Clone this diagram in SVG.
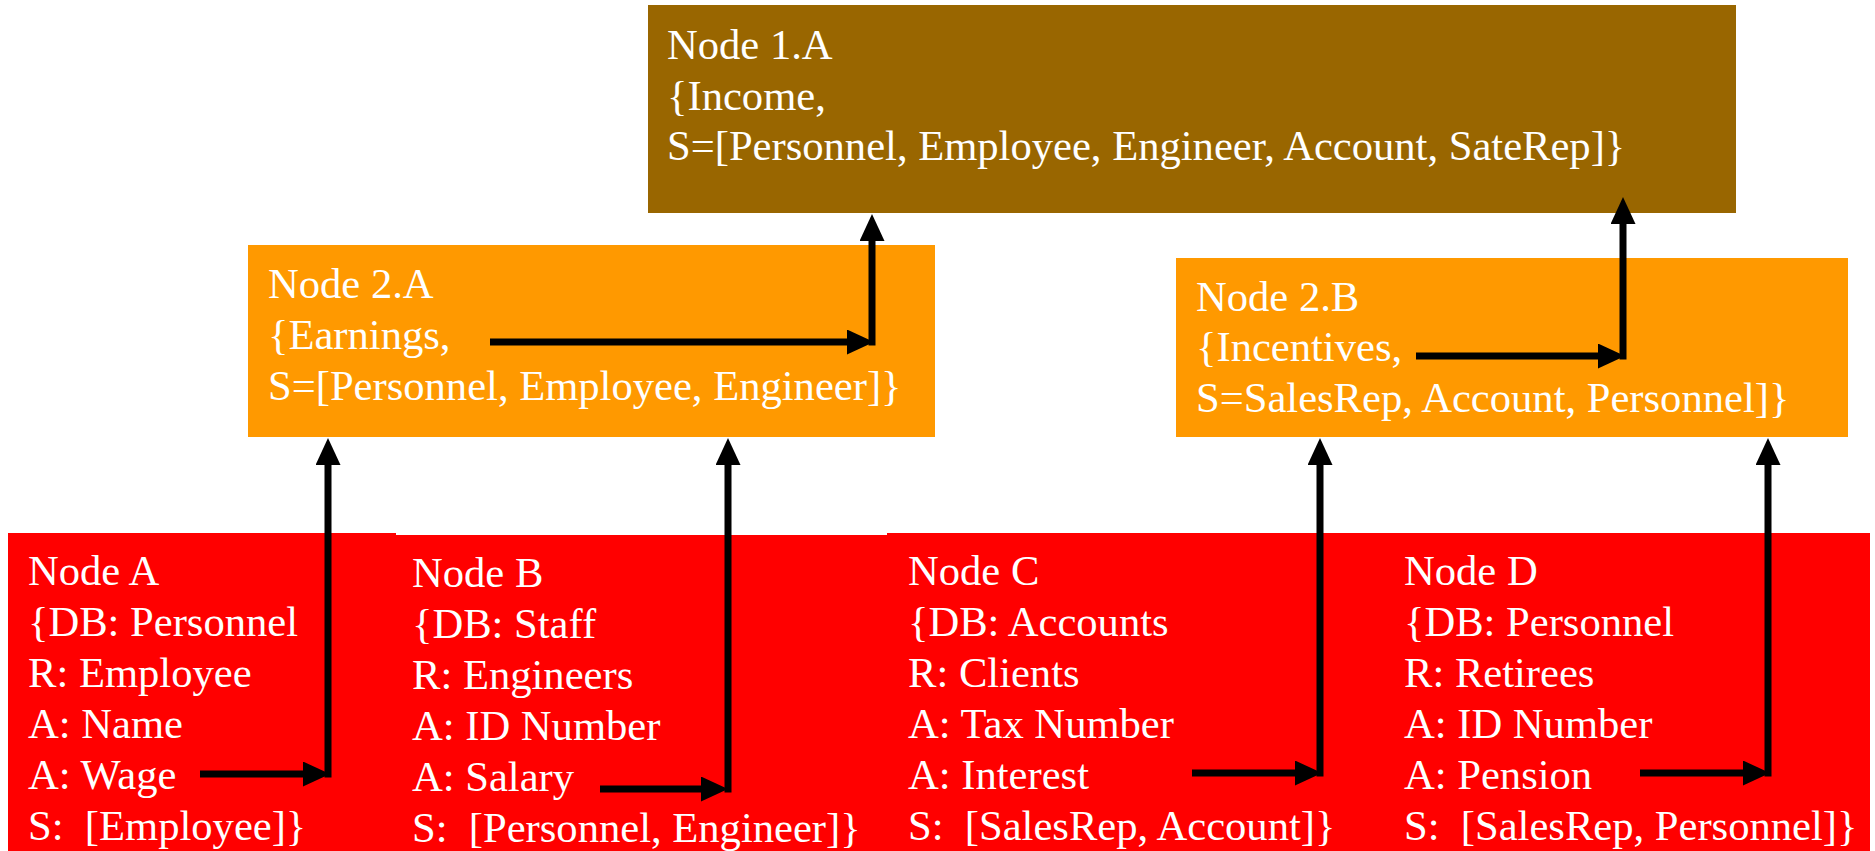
<svg xmlns="http://www.w3.org/2000/svg" width="1875" height="851" viewBox="0 0 1875 851">
  <style>
    .lbl { font-family: "Liberation Serif", "Times New Roman", serif; font-size: 42.6px; fill: #ffffff; white-space: pre; }
    .top { fill: #996600; }
    .mid { fill: #ff9900; }
    .src { fill: #ff0000; }
    .link { stroke: #000000; stroke-width: 7; fill: none; marker-end: url(#head); }
  </style>
  <defs>
    <marker id="head" markerUnits="userSpaceOnUse" markerWidth="27" markerHeight="25" refX="10" refY="12.5" orient="auto">
      <path d="M0,0 L27,12.5 L0,25 z" fill="#000000"/>
    </marker>
  </defs>
  <rect width="1875" height="851" fill="#ffffff"/>

  <!-- global node -->
  <g id="node-1a">
    <rect class="top" x="648" y="5" width="1088" height="208"/>
    <text class="lbl" x="667" y="59">Node 1.A</text>
    <text class="lbl" x="667" y="110">{Income,</text>
    <text class="lbl" x="667" y="160">S=[Personnel, Employee, Engineer, Account, SateRep]}</text>
  </g>

  <!-- intermediate nodes -->
  <g id="node-2a">
    <rect class="mid" x="248" y="245" width="687" height="192"/>
    <text class="lbl" x="268" y="298">Node 2.A</text>
    <text class="lbl" x="268" y="349">{Earnings,</text>
    <text class="lbl" x="268" y="400">S=[Personnel, Employee, Engineer]}</text>
  </g>
  <g id="node-2b">
    <rect class="mid" x="1176" y="258" width="672" height="179"/>
    <text class="lbl" x="1196" y="311">Node 2.B</text>
    <text class="lbl" x="1196" y="361">{Incentives,</text>
    <text class="lbl" x="1196" y="412">S=SalesRep, Account, Personnel]}</text>
  </g>

  <!-- source databases -->
  <g id="node-a">
    <rect class="src" x="8" y="533" width="388" height="318"/>
    <text class="lbl" x="28" y="585">Node A</text>
    <text class="lbl" x="28" y="636">{DB: Personnel</text>
    <text class="lbl" x="28" y="687">R: Employee</text>
    <text class="lbl" x="28" y="738">A: Name</text>
    <text class="lbl" x="28" y="789">A: Wage</text>
    <text class="lbl" x="28" y="840">S:  [Employee]}</text>
  </g>
  <g id="node-b">
    <rect class="src" x="396" y="535" width="491" height="316"/>
    <text class="lbl" x="412" y="587">Node B</text>
    <text class="lbl" x="412" y="638">{DB: Staff</text>
    <text class="lbl" x="412" y="689">R: Engineers</text>
    <text class="lbl" x="412" y="740">A: ID Number</text>
    <text class="lbl" x="412" y="791">A: Salary</text>
    <text class="lbl" x="412" y="842">S:  [Personnel, Engineer]}</text>
  </g>
  <g id="node-c">
    <rect class="src" x="887" y="533" width="494" height="318"/>
    <text class="lbl" x="908" y="585">Node C</text>
    <text class="lbl" x="908" y="636">{DB: Accounts</text>
    <text class="lbl" x="908" y="687">R: Clients</text>
    <text class="lbl" x="908" y="738">A: Tax Number</text>
    <text class="lbl" x="908" y="789">A: Interest</text>
    <text class="lbl" x="908" y="840">S:  [SalesRep, Account]}</text>
  </g>
  <g id="node-d">
    <rect class="src" x="1380" y="533" width="490" height="318"/>
    <text class="lbl" x="1404" y="585">Node D</text>
    <text class="lbl" x="1404" y="636">{DB: Personnel</text>
    <text class="lbl" x="1404" y="687">R: Retirees</text>
    <text class="lbl" x="1404" y="738">A: ID Number</text>
    <text class="lbl" x="1404" y="789">A: Pension</text>
    <text class="lbl" x="1404" y="840">S:  [SalesRep, Personnel]}</text>
  </g>

  <!-- connectors: each elbow is a horizontal arrow into a corner, then a vertical arrow up -->
  <g id="connectors">
    <line class="link" x1="200" y1="774" x2="313" y2="774"/>
    <line class="link" x1="328" y1="777.5" x2="328" y2="455"/>

    <line class="link" x1="600" y1="789" x2="711" y2="789"/>
    <line class="link" x1="728" y1="792.5" x2="728" y2="455"/>

    <line class="link" x1="1192" y1="773" x2="1305" y2="773"/>
    <line class="link" x1="1320" y1="776.5" x2="1320" y2="455"/>

    <line class="link" x1="1640" y1="773" x2="1753" y2="773"/>
    <line class="link" x1="1768" y1="776.5" x2="1768" y2="455"/>

    <line class="link" x1="490" y1="342" x2="857" y2="342"/>
    <line class="link" x1="872" y1="345.5" x2="872" y2="231"/>

    <line class="link" x1="1416" y1="356" x2="1608" y2="356"/>
    <line class="link" x1="1623" y1="359.5" x2="1623" y2="214"/>
  </g>
</svg>
